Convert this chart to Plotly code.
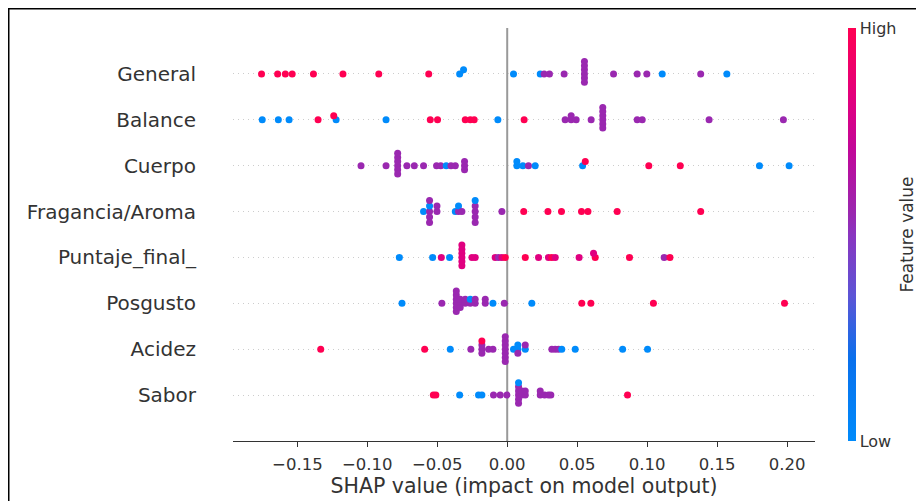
import numpy as np
import plotly.graph_objects as go

# feature value codes (normalised 0 = low, 1 = high)
R, M, P, B = 1.0, 0.82, 0.55, 0.0

features = ["General", "Balance", "Cuerpo", "Fragancia/Aroma",
            "Puntaje_final_", "Posgusto", "Acidez", "Sabor"]

general_shap = [-0.1756, -0.1641, -0.1586, -0.1537, -0.1385, -0.1174, -0.0918, -0.0561,
                -0.0340, -0.0312, 0.0045, 0.0236, 0.0264, 0.0302, 0.0407,
                0.0552, 0.0552, 0.0552, 0.0552, 0.0552, 0.0552,
                0.0760, 0.0929, 0.0998, 0.1108, 0.1383, 0.1570]
general_val = [R, R, R, R, R, R, R, R,
               B, B, B, B, P, P, P,
               P, P, P, P, P, P,
               P, P, P, B, P, B]

balance_shap = [-0.1751, -0.1636, -0.1559, -0.1352, -0.1223, -0.1240, -0.0866,
                -0.0550, -0.0498, -0.0300, -0.0264, -0.0236, -0.0067, 0.0121,
                0.0414, 0.0457, 0.0457, 0.0493, 0.0600,
                0.0683, 0.0683, 0.0683, 0.0683, 0.0683, 0.0683,
                0.0929, 0.0965, 0.1443, 0.1974]
balance_val = [B, B, B, R, B, R, B,
               R, R, R, R, R, B, R,
               P, P, P, P, P,
               P, P, P, P, P, P,
               P, P, P, P]

cuerpo_shap = [-0.1045, -0.0866,
               -0.0783, -0.0783, -0.0783, -0.0783, -0.0783, -0.0783,
               -0.0717, -0.0664, -0.0598, -0.0505, -0.0475, -0.0436, -0.0402, -0.0371,
               -0.0305, -0.0305, -0.0305,
               0.0069, 0.0069, 0.0112, 0.0152, 0.0200,
               0.0539, 0.0558, 0.1012, 0.1237, 0.1803, 0.2015]
cuerpo_val = [P, P,
              P, P, P, P, P, P,
              P, P, P, P, P, B, P, P,
              P, P, P,
              B, B, B, P, B,
              B, R, R, R, B, B]

fragancia_shap = [-0.0598,
                  -0.0555, -0.0555, -0.0555, -0.0555, -0.0555,
                  -0.0502, -0.0502, -0.0371, -0.0348, -0.0348, -0.0324,
                  -0.0229, -0.0229, -0.0229, -0.0229, -0.0229,
                  -0.0038, 0.0118, 0.0291, 0.0388, 0.0531, 0.0577, 0.0786, 0.1383]
fragancia_val = [B,
                 P, B, P, P, P,
                 P, P, B, P, B, P,
                 P, P, P, B, P,
                 P, R, R, R, R, R, R, R]

puntaje_shap = [-0.0771, -0.0533, -0.0471, -0.0412,
                -0.0324, -0.0324, -0.0324, -0.0324, -0.0324, -0.0324,
                -0.0252, -0.0229, -0.0086, -0.0062, -0.0038, -0.0014,
                0.0129, 0.0224, 0.0295, 0.0319, 0.0343, 0.0514,
                0.0629, 0.0617, 0.0874, 0.1122, 0.1163]
puntaje_val = [B, B, M, B,
               M, M, M, M, M, M,
               M, M, M, P, M, R,
               R, M, M, R, M, M,
               R, M, R, P, R]

posgusto_shap = [-0.0752, -0.0467,
                 -0.0364, -0.0364, -0.0364, -0.0364, -0.0364, -0.0364,
                 -0.0336, -0.0336, -0.0336, -0.0300, -0.0300,
                 -0.0264, -0.0264, -0.0229, -0.0229, -0.0157, -0.0157,
                 -0.0102, -0.0021, 0.0176, 0.0533, 0.0598, 0.1045, 0.1982]
posgusto_val = [B, P,
                P, P, P, P, P, P,
                P, P, P, P, P,
                P, B, P, P, P, P,
                B, P, B, R, R, R, R]

acidez_shap = [-0.1333, -0.0590, -0.0407, -0.0260,
               -0.0181, -0.0181, -0.0181, -0.0181, -0.0133, -0.0102,
               -0.0014, -0.0014, -0.0014, -0.0014, -0.0014, -0.0014, -0.0014,
               0.0045, 0.0076, 0.0076, 0.0076, 0.0129, 0.0129,
               0.0319, 0.0343, 0.0367, 0.0390, 0.0486, 0.0825, 0.1003]
acidez_val = [R, R, B, P,
              P, P, P, R, P, P,
              P, P, P, P, P, P, P,
              B, B, B, P, B, P,
              P, P, P, B, B, B, B]

sabor_shap = [-0.0528, -0.0510, -0.0340, -0.0205, -0.0181, -0.0098, -0.0050, -0.0002,
              0.0081, 0.0081, 0.0081, 0.0081, 0.0081, 0.0081,
              0.0105, 0.0105, 0.0129, 0.0129, 0.0236, 0.0236,
              0.0267, 0.0295, 0.0312, 0.0860]
sabor_val = [R, R, B, B, B, P, P, P,
             P, P, P, P, P, B,
             P, P, P, P, P, P,
             P, P, P, R]

shap_lists = [general_shap, balance_shap, cuerpo_shap, fragancia_shap,
              puntaje_shap, posgusto_shap, acidez_shap, sabor_shap]
val_lists = [general_val, balance_val, cuerpo_val, fragancia_val,
             puntaje_val, posgusto_val, acidez_val, sabor_val]


def swarm_offsets(shaps, row_height=0.4, nbins=100):
    s = np.asarray(shaps, dtype=float)
    quant = np.round(nbins * (s - s.min()) / (s.max() - s.min() + 1e-8))
    inds = np.argsort(quant, kind="stable")
    layer, last_bin = 0, -1
    ys = np.zeros(len(s))
    for ind in inds:
        if quant[ind] != last_bin:
            layer = 0
        ys[ind] = np.ceil(layer / 2) * ((layer % 2) * 2 - 1)
        layer += 1
        last_bin = quant[ind]
    ys *= 0.9 * (row_height / np.max(ys + 1))
    return ys


n = len(features)
xs, ys, cs = [], [], []
for i, (sh, vv) in enumerate(zip(shap_lists, val_lists)):
    pos = n - 1 - i
    off = swarm_offsets(sh)
    xs.extend(sh)
    ys.extend(pos + off)
    cs.extend(vv)

colorscale = [[0.0, "#008bfb"], [0.2, "#0a70ec"], [0.35, "#5c55d6"],
              [0.5, "#8a35c0"], [0.55, "#9a28b0"], [0.7, "#c0089a"],
              [0.82, "#e00080"], [1.0, "#ff0052"]]

# figure is placed 8px into the page by the default body margin
W, H = 916, 493
PL, PR, PT, PB = 225, 807, 20, 433
pw, ph = PR - PL, PB - PT

fig = go.Figure()
fig.add_trace(go.Scatter(
    x=xs, y=ys, mode="markers",
    marker=dict(size=7, color=cs, cmin=0, cmax=1, colorscale=colorscale,
                line=dict(width=0), showscale=True,
                colorbar=dict(thickness=8, len=1.0, lenmode="fraction", y=0.5, yanchor="middle",
                              x=(840 - PL) / pw, xanchor="left", xpad=0, ypad=0, outlinewidth=0,
                              tickvals=[0, 1], ticktext=["Low", "High"], ticks="",
                              tickfont=dict(family="DejaVu Sans", size=16, color="#333"))),
    hoverinfo="skip", showlegend=False))

shapes = [
    dict(type="line", xref="x", yref="paper", x0=0, x1=0, y0=0, y1=1,
         line=dict(color="#999999", width=2), layer="below"),
    dict(type="line", xref="paper", yref="paper",
         x0=(0 - PL) / pw, x1=(W - PL) / pw, y0=1 + (PT - 0.5) / ph, y1=1 + (PT - 0.5) / ph,
         line=dict(color="black", width=2)),
    dict(type="line", xref="paper", yref="paper",
         x0=(0.5 - PL) / pw, x1=(0.5 - PL) / pw, y0=1 + PT / ph, y1=-(H - PB) / ph,
         line=dict(color="black", width=2)),
]

annotations = [
    dict(text="Feature value", xref="paper", yref="paper",
         x=(898 - PL) / pw, y=0.5, textangle=-90, showarrow=False,
         xanchor="center", yanchor="middle",
         font=dict(family="DejaVu Sans", size=17, color="#333")),
]

fig.update_layout(
    width=W, height=H,
    margin=dict(l=PL, r=W - PR, t=PT, b=H - PB, autoexpand=False),
    plot_bgcolor="white", paper_bgcolor="white",
    font=dict(family="DejaVu Sans", color="#333"),
    shapes=shapes, annotations=annotations,
    xaxis=dict(range=[-0.196, 0.22], dtick=0.05, tick0=0, tickformat=".2f",
               showgrid=False, zeroline=False, showline=True, linecolor="#333", linewidth=1,
               ticks="outside", ticklen=5, tickcolor="#333", ticklabelstandoff=3,
               tickfont=dict(size=16.5, color="#333"),
               title=dict(text="SHAP value (impact on model output)",
                          font=dict(size=20.5, color="#333"), standoff=0)),
    yaxis=dict(range=[-1, n], tickvals=list(range(n)), ticktext=features[::-1],
               showgrid=True, gridcolor="#cccccc", griddash="1px,4px", gridwidth=1,
               zeroline=False, showline=False, ticks="",
               ticklabelstandoff=36,
               tickfont=dict(size=20, color="#333")),
)

fig.write_html("out.html")
